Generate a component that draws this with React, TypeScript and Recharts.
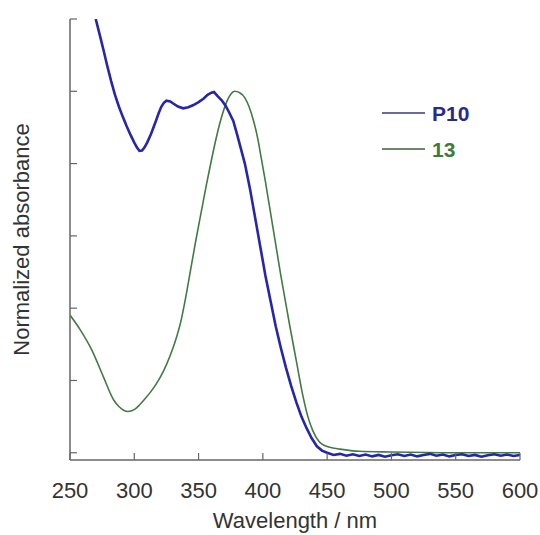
import React from 'react';
import { LineChart, Line, XAxis, YAxis, Label, Legend } from 'recharts';

// P10 (blue) spectrum
const p10Nm = [
  270, 273, 276, 279, 282, 285, 288, 291, 294, 297, 300, 302, 304, 306, 308, 310, 313, 316, 319, 321,
  323, 325, 328, 330, 334, 338, 342, 346, 350, 354, 357, 360, 362, 365, 368, 371, 374, 377, 380, 383,
  386, 390, 394, 398, 402, 406, 410, 414, 418, 422, 426, 430, 434, 438, 442, 446, 450, 455, 460, 465,
  470, 475, 480, 485, 490, 495, 500, 505, 510, 515, 520, 525, 530, 535, 540, 545, 550, 555, 560, 565,
  570, 575, 580, 585, 590, 595, 600,
];
const p10Abs = [
  1.2, 1.158, 1.115, 1.07, 1.028, 0.99, 0.958, 0.93, 0.904, 0.88, 0.858, 0.845, 0.835, 0.836, 0.845, 0.858, 0.882, 0.91, 0.94, 0.957,
  0.968, 0.974, 0.972, 0.967, 0.958, 0.953, 0.956, 0.962, 0.97, 0.98, 0.99, 0.996, 0.998, 0.986, 0.975, 0.96, 0.94, 0.918, 0.88, 0.84,
  0.8, 0.73, 0.65, 0.57, 0.49, 0.42, 0.35, 0.29, 0.235, 0.185, 0.14, 0.1, 0.068, 0.04, 0.018, 0.006, 0.0, -0.006, -0.003, -0.008,
  -0.004, -0.009, -0.005, -0.01, -0.006, -0.011, -0.007, -0.004, -0.009, -0.005, -0.01, -0.006, -0.003, -0.008, -0.005, -0.01, -0.006, -0.004, -0.009, -0.006,
  -0.011, -0.007, -0.004, -0.008, -0.005, -0.009, -0.006,
];

// compound 13 (green) spectrum
const c13Nm = [
  250, 258, 267, 276, 284, 288, 292, 295, 298, 301, 304, 308, 312, 317, 323, 328, 332, 336, 340, 344,
  348, 352, 356, 360, 364, 368, 372, 375, 378, 382, 386, 389, 393, 396, 399, 402, 405, 408, 411, 414,
  417, 421, 426, 431, 435, 439, 444, 448, 452, 460, 475, 500, 550, 600,
];
const c13Abs = [
  0.381, 0.34, 0.284, 0.21, 0.146, 0.128, 0.117, 0.114, 0.116, 0.122, 0.132, 0.148, 0.165, 0.19, 0.228, 0.27, 0.31, 0.36, 0.43, 0.51,
  0.59, 0.665, 0.74, 0.81, 0.875, 0.93, 0.972, 0.992, 1.0, 0.996, 0.982, 0.96, 0.915, 0.87, 0.81, 0.75, 0.685, 0.62, 0.555, 0.49,
  0.43, 0.35, 0.255, 0.16, 0.1, 0.06, 0.03, 0.02, 0.015, 0.01, 0.004, 0.002, 0.0, 0.0,
];

const xTicks = [250, 300, 350, 400, 450, 500, 550, 600];
const yTicks = [0, 0.2, 0.4, 0.6, 0.8, 1.0, 1.2];

const seriesNames = ['P10', '13'];
const seriesColors = ['#2626aa', '#437a43'];
const legendLineColors = ['#3a3a7a', '#3f5f3f'];
const legendTextColors = ['#2a2a8c', '#3f7a3f'];

const p10Data = p10Nm.map((nm, i) => ({ nm, v: p10Abs[i] }));
const c13Data = c13Nm.map((nm, i) => ({ nm, v: c13Abs[i] }));

const FONT = '"Liberation Sans", Arial, Helvetica, sans-serif';
const AXIS_COLOR = '#666';
const TICK_LEN = 7;
const X_TICK_MARGIN = 22;

const XTick = (props: any) => {
  const { x, y, payload } = props;
  const axisY = y - X_TICK_MARGIN;
  return (
    <g>
      <line x1={x} x2={x} y1={axisY} y2={axisY - TICK_LEN} stroke={AXIS_COLOR} strokeWidth={1.2} />
      <text x={x} y={y} dy="0.71em" textAnchor="middle" fontFamily={FONT} fontSize={22} fill="#333">
        {payload.value}
      </text>
    </g>
  );
};

const YTick = (props: any) => {
  const { x, y } = props;
  return <line x1={x} x2={x + TICK_LEN} y1={y} y2={y} stroke={AXIS_COLOR} strokeWidth={1.2} />;
};

const LegendContent = () => (
  <svg width={120} height={60} style={{ overflow: 'visible', display: 'block' }}>
    {seriesNames.map((name, i) => (
      <g key={name}>
        <line x1={0} x2={43} y1={10 + i * 36} y2={10 + i * 36} stroke={legendLineColors[i]} strokeWidth={1.5} />
        <text x={50} y={10 + i * 36 + 7.5} fontFamily={FONT} fontSize={21} fontWeight="bold" fill={legendTextColors[i]}>
          {name}
        </text>
      </g>
    ))}
  </svg>
);

export default function App() {
  return (
    <div style={{ position: 'absolute', left: 0, top: 0, width: 540, height: 535, background: '#fff' }}>
      <LineChart width={540} height={535} margin={{ top: 19, right: 20, bottom: 0, left: 0 }}>
        <XAxis
          dataKey="nm"
          type="number"
          domain={[250, 600]}
          ticks={xTicks}
          allowDataOverflow
          height={75}
          stroke={AXIS_COLOR}
          strokeWidth={1.5}
          tickLine={false}
          tickSize={0}
          tickMargin={X_TICK_MARGIN}
          tick={<XTick />}
        >
          <Label
            value="Wavelength / nm"
            position="insideBottom"
            offset={7}
            style={{ fontSize: 22, fill: '#333', fontFamily: FONT }}
          />
        </XAxis>
        <YAxis
          type="number"
          domain={[-0.02, 1.2]}
          ticks={yTicks}
          allowDataOverflow
          width={70}
          stroke={AXIS_COLOR}
          strokeWidth={1.5}
          tickLine={false}
          tickSize={0}
          tickMargin={0}
          tick={<YTick />}
        >
          <Label
            value="Normalized absorbance"
            angle={-90}
            position="center"
            dx={-14}
            style={{ fontSize: 22, fill: '#333', fontFamily: FONT, textAnchor: 'middle' }}
          />
        </YAxis>
        <Legend
          layout="horizontal"
          verticalAlign="middle"
          align="center"
          content={<LegendContent />}
          wrapperStyle={{ position: 'absolute', left: 382, top: 103, width: 120, height: 60 }}
        />
        <Line
          data={c13Data}
          dataKey="v"
          type="monotone"
          stroke={seriesColors[1]}
          strokeWidth={1.6}
          dot={false}
          isAnimationActive={false}
          name={seriesNames[1]}
        />
        <Line
          data={p10Data}
          dataKey="v"
          type="linear"
          stroke={seriesColors[0]}
          strokeWidth={2.6}
          dot={false}
          isAnimationActive={false}
          name={seriesNames[0]}
        />
      </LineChart>
    </div>
  );
}
